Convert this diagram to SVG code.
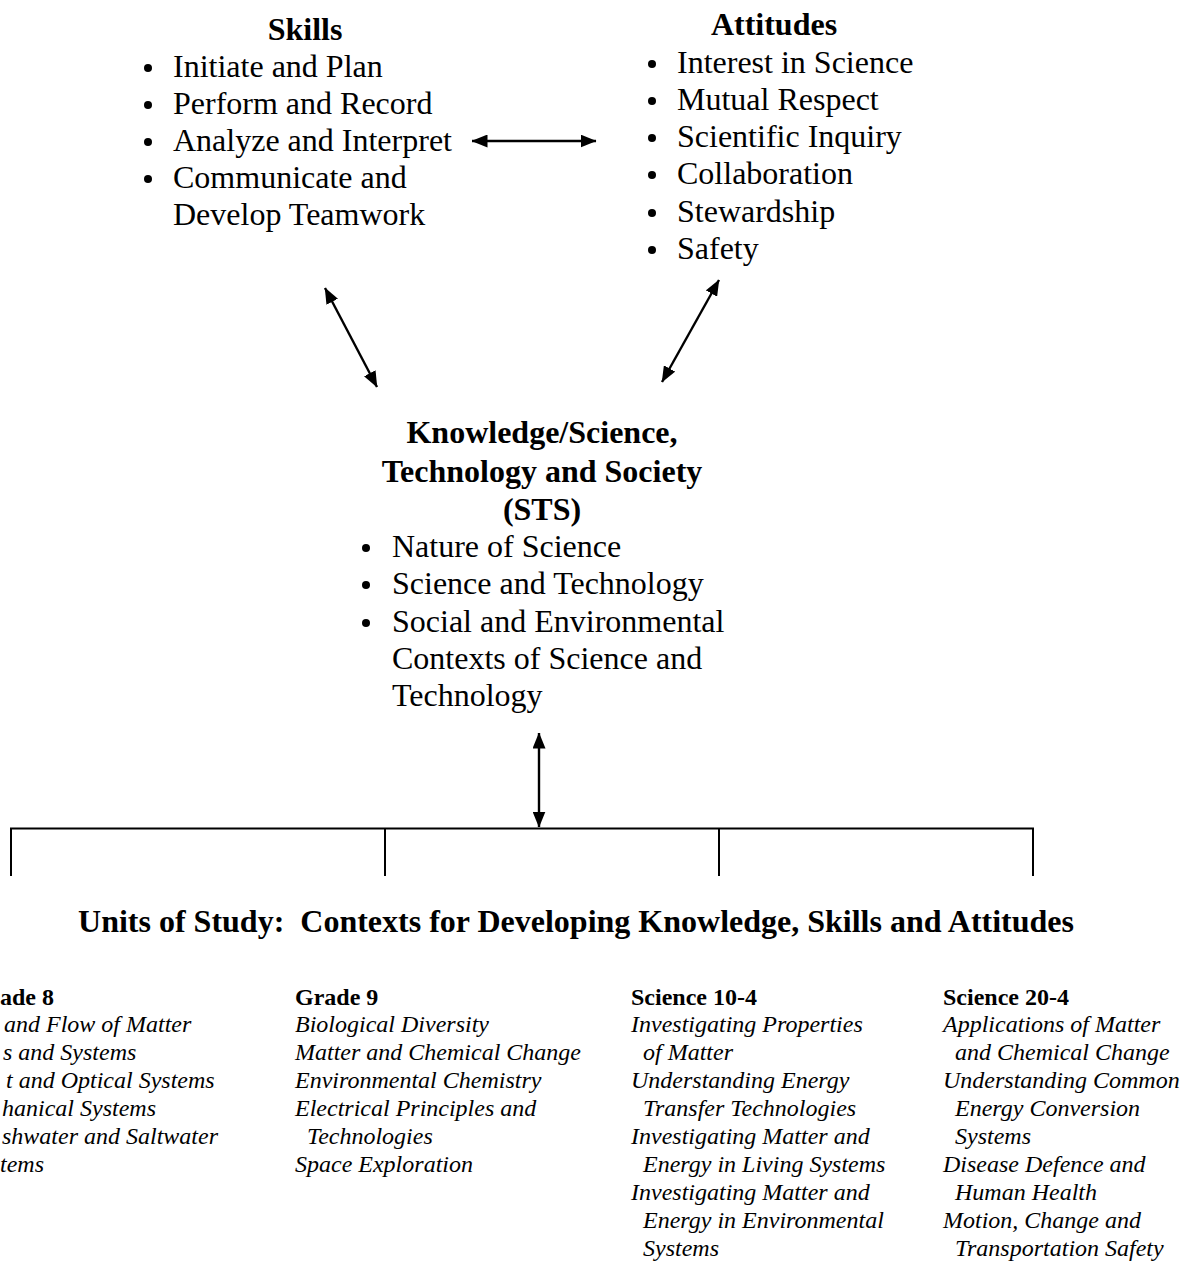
<svg xmlns="http://www.w3.org/2000/svg" width="1183" height="1263" viewBox="0 0 1183 1263">
<style>
  text { font-family: "Liberation Serif", "Times New Roman", serif; fill: #000; }
  .h { font-size: 32px; font-weight: bold; text-anchor: middle; }
  .it { font-size: 32px; }
  .b { fill: #000; }
  .ch { font-size: 24px; font-weight: bold; }
  .ci { font-size: 24px; font-style: italic; }
  .conn { stroke: #000; stroke-width: 2.4; fill: none; }
  .arr { marker-start: url(#ah); marker-end: url(#ah); }
  .tree { stroke: #000; stroke-width: 2; fill: none; }
</style>
<defs>
  <marker id="ah" viewBox="0 0 16 13" refX="15.5" refY="6.5" markerWidth="16" markerHeight="13" markerUnits="userSpaceOnUse" orient="auto-start-reverse">
    <path d="M0,0 L16,6.5 L0,13 Z" fill="#000"/>
  </marker>
</defs>

<g id="skills">
  <text class="h" x="305" y="40">Skills</text>
  <circle class="b" cx="148" cy="68" r="4"/><text class="it" x="173" y="77">Initiate and Plan</text>
  <circle class="b" cx="148" cy="105" r="4"/><text class="it" x="173" y="114">Perform and Record</text>
  <circle class="b" cx="148" cy="142" r="4"/><text class="it" x="173" y="151">Analyze and Interpret</text>
  <circle class="b" cx="148" cy="179" r="4"/><text class="it" x="173" y="188">Communicate and</text>
  <text class="it" x="173" y="225">Develop Teamwork</text>
</g>

<g id="attitudes">
  <text class="h" x="774" y="35">Attitudes</text>
  <circle class="b" cx="652" cy="64" r="4"/><text class="it" x="677" y="73">Interest in Science</text>
  <circle class="b" cx="652" cy="101" r="4"/><text class="it" x="677" y="110">Mutual Respect</text>
  <circle class="b" cx="652" cy="138" r="4"/><text class="it" x="677" y="147">Scientific Inquiry</text>
  <circle class="b" cx="652" cy="175" r="4"/><text class="it" x="677" y="184">Collaboration</text>
  <circle class="b" cx="652" cy="213" r="4"/><text class="it" x="677" y="222">Stewardship</text>
  <circle class="b" cx="652" cy="250" r="4"/><text class="it" x="677" y="259">Safety</text>
</g>

<g id="knowledge">
  <text class="h" x="542" y="443">Knowledge/Science,</text>
  <text class="h" x="542" y="482">Technology and Society</text>
  <text class="h" x="542" y="520">(STS)</text>
  <circle class="b" cx="366" cy="548" r="4"/><text class="it" x="392" y="557">Nature of Science</text>
  <circle class="b" cx="366" cy="585" r="4"/><text class="it" x="392" y="594">Science and Technology</text>
  <circle class="b" cx="366" cy="623" r="4"/><text class="it" x="392" y="632">Social and Environmental</text>
  <text class="it" x="392" y="669">Contexts of Science and</text>
  <text class="it" x="392" y="706">Technology</text>
</g>

<g id="connectors">
  <line class="conn arr" x1="472" y1="141" x2="596" y2="141"/>
  <line class="conn arr" x1="325" y1="288" x2="377" y2="387"/>
  <line class="conn arr" x1="719" y1="280" x2="662" y2="382"/>
  <line class="conn arr" x1="539" y1="733" x2="539" y2="827"/>
  <line class="tree" x1="10" y1="828.5" x2="1034" y2="828.5"/>
  <line class="tree" x1="11" y1="828" x2="11" y2="876"/>
  <line class="tree" x1="385" y1="828" x2="385" y2="876"/>
  <line class="tree" x1="719" y1="828" x2="719" y2="876"/>
  <line class="tree" x1="1033" y1="828" x2="1033" y2="876"/>
</g>

<g id="units-title">
  <text class="h" x="576" y="932">Units of Study:&#160; Contexts for Developing Knowledge, Skills and Attitudes</text>
</g>

<g id="grade8">
  <text class="ch" x="0" y="1005">ade 8</text>
  <text class="ci" x="4" y="1032">and Flow of Matter</text>
  <text class="ci" x="3" y="1060">s and Systems</text>
  <text class="ci" x="6" y="1088">t and Optical Systems</text>
  <text class="ci" x="2" y="1116">hanical Systems</text>
  <text class="ci" x="2" y="1144">shwater and Saltwater</text>
  <text class="ci" x="0" y="1172">tems</text>
</g>

<g id="grade9">
  <text class="ch" x="295" y="1005">Grade 9</text>
  <text class="ci" x="295" y="1032">Biological Diversity</text>
  <text class="ci" x="295" y="1060">Matter and Chemical Change</text>
  <text class="ci" x="295" y="1088">Environmental Chemistry</text>
  <text class="ci" x="295" y="1116">Electrical Principles and</text>
  <text class="ci" x="307" y="1144">Technologies</text>
  <text class="ci" x="295" y="1172">Space Exploration</text>
</g>

<g id="science10">
  <text class="ch" x="631" y="1005">Science 10-4</text>
  <text class="ci" x="631" y="1032">Investigating Properties</text>
  <text class="ci" x="643" y="1060">of Matter</text>
  <text class="ci" x="631" y="1088">Understanding Energy</text>
  <text class="ci" x="643" y="1116">Transfer Technologies</text>
  <text class="ci" x="631" y="1144">Investigating Matter and</text>
  <text class="ci" x="643" y="1172">Energy in Living Systems</text>
  <text class="ci" x="631" y="1200">Investigating Matter and</text>
  <text class="ci" x="643" y="1228">Energy in Environmental</text>
  <text class="ci" x="643" y="1256">Systems</text>
</g>

<g id="science20">
  <text class="ch" x="943" y="1005">Science 20-4</text>
  <text class="ci" x="943" y="1032">Applications of Matter</text>
  <text class="ci" x="955" y="1060">and Chemical Change</text>
  <text class="ci" x="943" y="1088">Understanding Common</text>
  <text class="ci" x="955" y="1116">Energy Conversion</text>
  <text class="ci" x="955" y="1144">Systems</text>
  <text class="ci" x="943" y="1172">Disease Defence and</text>
  <text class="ci" x="955" y="1200">Human Health</text>
  <text class="ci" x="943" y="1228">Motion, Change and</text>
  <text class="ci" x="955" y="1256">Transportation Safety</text>
</g>
</svg>
